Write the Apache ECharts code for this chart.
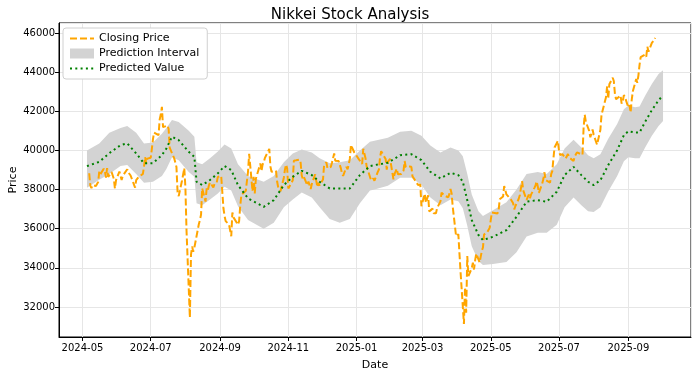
<!DOCTYPE html>
<html>
<head>
<meta charset="utf-8">
<title>Nikkei Stock Analysis</title>
<script src="https://cdn.jsdelivr.net/npm/echarts@6/dist/echarts.min.js"></script>
<style>
html,body{margin:0;padding:0;background:#fff;}
#chart{width:700px;height:376px;}
</style>
</head>
<body>
<div id="chart"></div>
<script>
// closing price per trading day [date, close]
const closing = [
  ['2024-05-07',38835],['2024-05-08',38202],['2024-05-09',38073],['2024-05-10',38229],['2024-05-13',38179],['2024-05-15',38385],
  ['2024-05-16',38920],['2024-05-17',38787],['2024-05-20',39069],['2024-05-21',38946],['2024-05-22',38617],['2024-05-23',39103],
  ['2024-05-24',38646],['2024-05-27',38900],['2024-05-28',38855],['2024-05-29',38556],['2024-05-30',38054],['2024-05-31',38487],
  ['2024-06-03',38923],['2024-06-04',38837],['2024-06-05',38490],['2024-06-06',38703],['2024-06-07',38683],['2024-06-10',39038],
  ['2024-06-11',38876],['2024-06-12',38877],['2024-06-13',38720],['2024-06-14',38814],['2024-06-17',38102],['2024-06-18',38482],
  ['2024-06-19',38570],['2024-06-20',38633],['2024-06-21',38596],['2024-06-24',38804],['2024-06-25',39173],['2024-06-26',39667],
  ['2024-06-27',39341],['2024-06-28',39583],['2024-07-01',39631],['2024-07-02',40074],['2024-07-03',40580],['2024-07-04',40913],
  ['2024-07-05',40912],['2024-07-08',40780],['2024-07-09',41580],['2024-07-10',41831],['2024-07-11',42224],['2024-07-12',41190],
  ['2024-07-16',41275],['2024-07-17',41097],['2024-07-18',40126],['2024-07-19',40063],['2024-07-22',39599],['2024-07-23',39594],
  ['2024-07-24',39154],['2024-07-25',37869],['2024-07-26',37667],['2024-07-29',38468],['2024-07-30',38525],['2024-07-31',39101],
  ['2024-08-01',38126],['2024-08-02',35909],['2024-08-05',31458],['2024-08-06',34675],['2024-08-07',35089],['2024-08-08',34831],
  ['2024-08-09',35025],['2024-08-13',36232],['2024-08-14',36442],['2024-08-15',36726],['2024-08-16',38062],['2024-08-19',37388],
  ['2024-08-20',38063],['2024-08-21',37951],['2024-08-22',38211],['2024-08-23',38364],['2024-08-26',38110],['2024-08-27',38288],
  ['2024-08-28',38371],['2024-08-29',38362],['2024-08-30',38647],['2024-09-02',38700],['2024-09-03',38686],['2024-09-04',37047],
  ['2024-09-05',36657],['2024-09-06',36391],['2024-09-09',36215],['2024-09-10',36159],['2024-09-11',35619],['2024-09-12',36833],
  ['2024-09-13',36581],['2024-09-17',36203],['2024-09-18',36380],['2024-09-19',37155],['2024-09-20',37723],['2024-09-24',37940],
  ['2024-09-25',37870],['2024-09-26',38926],['2024-09-27',39829],['2024-09-30',37919],['2024-10-01',38651],['2024-10-02',37808],
  ['2024-10-03',38552],['2024-10-04',38635],['2024-10-07',39332],['2024-10-08',38937],['2024-10-09',39277],['2024-10-10',39380],
  ['2024-10-11',39605],['2024-10-15',40077],['2024-10-16',39180],['2024-10-17',38911],['2024-10-18',38981],['2024-10-21',38954],
  ['2024-10-22',38411],['2024-10-23',38104],['2024-10-24',38143],['2024-10-25',37913],['2024-10-28',38605],['2024-10-29',39027],
  ['2024-10-30',39277],['2024-10-31',39081],['2024-11-01',38053],['2024-11-05',38474],['2024-11-06',39480],['2024-11-07',39381],
  ['2024-11-08',39500],['2024-11-11',39533],['2024-11-12',39376],['2024-11-13',38721],['2024-11-14',38535],['2024-11-15',38642],
  ['2024-11-18',38220],['2024-11-19',38414],['2024-11-20',38352],['2024-11-21',38026],['2024-11-22',38283],['2024-11-25',38780],
  ['2024-11-26',38442],['2024-11-27',38134],['2024-11-28',38349],['2024-11-29',38208],['2024-12-02',38513],['2024-12-03',39248],
  ['2024-12-04',39276],['2024-12-05',39395],['2024-12-06',39091],['2024-12-09',39160],['2024-12-10',39367],['2024-12-11',39372],
  ['2024-12-12',39849],['2024-12-13',39470],['2024-12-16',39457],['2024-12-17',39364],['2024-12-18',39082],['2024-12-19',38813],
  ['2024-12-20',38701],['2024-12-23',39161],['2024-12-24',39036],['2024-12-25',39130],['2024-12-26',39568],['2024-12-27',40281],
  ['2024-12-30',39894],['2025-01-06',39307],['2025-01-07',40083],['2025-01-08',39981],['2025-01-09',39605],['2025-01-10',39190],
  ['2025-01-14',38474],['2025-01-15',38445],['2025-01-16',38572],['2025-01-17',38451],['2025-01-20',38902],['2025-01-21',39027],
  ['2025-01-22',39646],['2025-01-23',39959],['2025-01-24',39931],['2025-01-27',39565],['2025-01-28',39016],['2025-01-29',39414],
  ['2025-01-30',39513],['2025-01-31',39572],['2025-02-03',38520],['2025-02-04',38798],['2025-02-05',38831],['2025-02-06',39066],
  ['2025-02-07',38787],['2025-02-10',38801],['2025-02-12',38963],['2025-02-13',39461],['2025-02-14',39149],['2025-02-17',39174],
  ['2025-02-18',39270],['2025-02-19',39164],['2025-02-20',38678],['2025-02-21',38776],['2025-02-25',38237],['2025-02-26',38142],
  ['2025-02-27',38256],['2025-02-28',37155],['2025-03-03',37785],['2025-03-04',37331],['2025-03-05',37418],['2025-03-06',37704],
  ['2025-03-07',36887],['2025-03-10',37028],['2025-03-11',36793],['2025-03-12',36819],['2025-03-13',36790],['2025-03-14',37053],
  ['2025-03-17',37396],['2025-03-18',37845],['2025-03-19',37751],['2025-03-21',37677],['2025-03-24',37608],['2025-03-25',37780],
  ['2025-03-26',38027],['2025-03-27',37799],['2025-03-28',37120],['2025-03-31',35617],['2025-04-01',35624],['2025-04-02',35725],
  ['2025-04-03',34736],['2025-04-04',33781],['2025-04-07',31136],['2025-04-08',33012],['2025-04-09',31714],['2025-04-10',34609],
  ['2025-04-11',33586],['2025-04-14',33982],['2025-04-15',34267],['2025-04-16',33920],['2025-04-17',34377],['2025-04-18',34730],
  ['2025-04-21',34280],['2025-04-22',34220],['2025-04-23',34868],['2025-04-24',35039],['2025-04-25',35705],['2025-04-28',35840],
  ['2025-04-30',36045],['2025-05-01',36452],['2025-05-02',36830],['2025-05-07',36780],['2025-05-08',36928],['2025-05-09',37503],
  ['2025-05-12',37644],['2025-05-13',38183],['2025-05-14',38128],['2025-05-15',37755],['2025-05-16',37753],['2025-05-19',37498],
  ['2025-05-20',37529],['2025-05-21',37299],['2025-05-22',36986],['2025-05-23',37160],['2025-05-26',37531],['2025-05-27',37724],
  ['2025-05-28',37722],['2025-05-29',38433],['2025-05-30',37965],['2025-06-02',37470],['2025-06-03',37446],['2025-06-04',37747],
  ['2025-06-05',37554],['2025-06-06',37741],['2025-06-09',38088],['2025-06-10',38211],['2025-06-11',38421],['2025-06-12',38173],
  ['2025-06-13',37834],['2025-06-16',38311],['2025-06-17',38536],['2025-06-18',38885],['2025-06-19',38488],['2025-06-20',38403],
  ['2025-06-23',38354],['2025-06-24',38791],['2025-06-25',38942],['2025-06-26',39584],['2025-06-27',40150],['2025-06-30',40487],
  ['2025-07-01',39986],['2025-07-02',39762],['2025-07-03',39785],['2025-07-04',39810],['2025-07-07',39587],['2025-07-08',39688],
  ['2025-07-09',39821],['2025-07-10',39646],['2025-07-11',39570],['2025-07-14',39459],['2025-07-15',39678],['2025-07-16',39663],
  ['2025-07-17',39901],['2025-07-18',39819],['2025-07-22',39774],['2025-07-23',41171],['2025-07-24',41826],['2025-07-25',41456],
  ['2025-07-28',40998],['2025-07-29',40674],['2025-07-30',40654],['2025-07-31',41069],['2025-08-01',40799],['2025-08-04',40290],
  ['2025-08-05',40549],['2025-08-06',40794],['2025-08-07',41059],['2025-08-08',41820],['2025-08-12',42718],['2025-08-13',43274],
  ['2025-08-14',42649],['2025-08-15',43378],['2025-08-18',43714],['2025-08-19',43546],['2025-08-20',42888],['2025-08-21',42610],
  ['2025-08-22',42633],['2025-08-25',42807],['2025-08-26',42394],['2025-08-27',42520],['2025-08-28',42829],['2025-08-29',42718],
  ['2025-09-01',42188],['2025-09-02',42310],['2025-09-03',41938],['2025-09-04',42580],['2025-09-05',43018],['2025-09-08',43643],
  ['2025-09-09',43459],['2025-09-10',43837],['2025-09-11',44372],['2025-09-12',44768],['2025-09-16',44902],['2025-09-17',44790],
  ['2025-09-18',45303],['2025-09-19',45045],['2025-09-22',45493],['2025-09-24',45630],['2025-09-25',45754]
];

// predicted value and its interval, read at these dates
const predDates = [
  '2024-05-05','2024-05-16','2024-05-25','2024-06-04','2024-06-10','2024-06-18','2024-06-25','2024-07-03','2024-07-11','2024-07-15',
  '2024-07-20','2024-07-26','2024-08-04','2024-08-09','2024-08-11','2024-08-16','2024-08-23','2024-08-30','2024-09-05','2024-09-11',
  '2024-09-17','2024-09-26','2024-10-10','2024-10-19','2024-10-28','2024-11-05','2024-11-13','2024-11-22','2024-11-29','2024-12-08',
  '2024-12-17','2024-12-26','2025-01-04','2025-01-13','2025-01-17','2025-01-29','2025-02-09','2025-02-19','2025-02-28','2025-03-08',
  '2025-03-17','2025-03-26','2025-04-02','2025-04-06','2025-04-10','2025-04-14','2025-04-20','2025-04-24','2025-05-03','2025-05-15',
  '2025-05-24','2025-06-02','2025-06-12','2025-06-20','2025-06-29','2025-07-06','2025-07-14','2025-07-21','2025-07-27','2025-08-01',
  '2025-08-07','2025-08-14','2025-08-22','2025-08-28','2025-09-01','2025-09-07','2025-09-11','2025-09-16','2025-09-22','2025-09-28',
  '2025-10-02'
];
const predValues = [
  39200,39420,39860,40270,40360,39850,39340,39350,39760,40100,
  40700,40530,39930,39670,38400,38230,38490,38830,39200,39000,
  38230,37550,37120,37460,38230,38650,38960,38740,38400,38060,
  38060,38060,38740,39200,39250,39370,39760,39810,39500,38910,
  38570,38860,38740,38400,37460,36440,35680,35420,35590,35930,
  36610,37380,37460,37380,37890,38740,39160,38740,38400,38230,
  38480,39250,40010,40780,40980,40920,40920,41460,42060,42560,
  42820
];
const bandLower = [
  38100,38500,38800,39200,39250,38800,38350,38400,38700,39050,
  39650,39500,38900,38650,37300,37200,37500,37800,38150,37950,
  37150,36450,36000,36300,37100,37500,37850,37600,37100,36500,
  36300,36500,37300,37950,38000,38200,38600,38600,38250,37600,
  37200,37500,37400,37050,36150,35100,34350,34150,34200,34300,
  34800,35600,35800,35800,36200,37100,37600,37200,36900,36850,
  37100,37900,38700,39450,39650,39600,39600,40150,40750,41250,
  41500
];
const bandUpper = [
  40000,40350,40900,41150,41250,40900,40350,40400,40850,41150,
  41550,41450,41000,40700,39400,39300,39600,39950,40300,40100,
  39300,38700,38400,38700,39400,39850,40050,39900,39600,39350,
  39400,39500,40000,40450,40500,40650,40950,41000,40750,40250,
  39900,40150,40000,39700,38800,37750,36900,36650,36950,37350,
  38000,38800,38900,38800,39300,40100,40550,40150,39750,39600,
  39800,40600,41350,42100,42300,42200,42250,42800,43400,43900,
  44100
];

var chart = echarts.init(document.getElementById('chart'));

var lowerData = predDates.map(function (d, i) { return [d, bandLower[i]]; });
var spanData = predDates.map(function (d, i) { return [d, bandUpper[i] - bandLower[i]]; });
var predData = predDates.map(function (d, i) { return [d, predValues[i]]; });

function ym(v) {
  var d = new Date(v);
  var m = d.getMonth() + 1;
  return d.getFullYear() + '-' + (m < 10 ? '0' + m : m);
}

var font = 'DejaVu Sans';

var option = {
  animation: false,
  backgroundColor: '#fff',
  textStyle: { fontFamily: font },
  title: {
    text: 'Nikkei Stock Analysis',
    left: 'center',
    top: 3,
    textStyle: { fontFamily: font, fontSize: 15, fontWeight: 'normal', color: '#000' }
  },
  legend: {
    orient: 'vertical',
    left: 63,
    top: 28,
    padding: [5, 8, 5, 6],
    itemGap: 4,
    itemWidth: 24,
    itemHeight: 10,
    backgroundColor: '#fff',
    borderColor: '#d0d0d0',
    borderWidth: 1,
    borderRadius: 3,
    textStyle: { fontFamily: font, fontSize: 11, color: '#000' },
    data: [
      // hide the marker circle, keep the dashed line
      { name: 'Closing Price', itemStyle: { opacity: 0 } },
      { name: 'Prediction Interval', icon: 'rect', itemStyle: { color: '#d3d3d3' } },
      { name: 'Predicted Value', itemStyle: { opacity: 0 } }
    ]
  },
  grid: {
    left: 59, right: 9, top: 23, bottom: 39,
    outerBoundsMode: 'none',
    show: true, borderColor: '#000', borderWidth: 1
  },
  xAxis: {
    type: 'time',
    min: '2024-04-10',
    max: '2025-10-27',
    splitNumber: 8,
    name: 'Date',
    nameLocation: 'middle',
    nameGap: 23,
    nameTextStyle: { fontFamily: font, fontSize: 11, color: '#000' },
    axisLine: { lineStyle: { color: '#000' } },
    axisTick: { show: true, length: 4, lineStyle: { color: '#000' } },
    minorTick: { show: false },
    axisLabel: { color: '#000', fontSize: 10, fontFamily: font, margin: 6, formatter: ym, hideOverlap: false },
    splitLine: { show: true, lineStyle: { color: '#e6e6e6', width: 1 } }
  },
  yAxis: {
    type: 'value',
    min: 30470,
    max: 46510,
    minInterval: 2000,
    maxInterval: 2000,
    name: 'Price',
    nameLocation: 'middle',
    nameGap: 40,
    nameMoveOverlap: false,
    nameTextStyle: { fontFamily: font, fontSize: 11, color: '#000' },
    axisLine: { show: true, lineStyle: { color: '#000' } },
    axisTick: { show: true, length: 4, lineStyle: { color: '#000' } },
    axisLabel: {
      color: '#000', fontSize: 10, fontFamily: font, margin: 4,
      showMinLabel: false, showMaxLabel: false,
      formatter: function (v) { return String(v); }
    },
    splitLine: { show: true, lineStyle: { color: '#e6e6e6', width: 1 } }
  },
  series: [
    {
      name: 'band-lower',
      type: 'line',
      stack: 'band',
      data: lowerData,
      symbol: 'none',
      lineStyle: { opacity: 0 },
      silent: true,
      z: 1
    },
    {
      name: 'Prediction Interval',
      type: 'line',
      stack: 'band',
      data: spanData,
      symbol: 'none',
      lineStyle: { opacity: 0 },
      itemStyle: { color: '#d3d3d3' },
      areaStyle: { color: '#d3d3d3', opacity: 1 },
      silent: true,
      z: 1
    },
    {
      name: 'Closing Price',
      type: 'line',
      data: closing,
      symbol: 'none',
      itemStyle: { color: '#FFA500' },
      lineStyle: { color: '#FFA500', width: 2, type: [7, 3] },
      z: 3
    },
    {
      name: 'Predicted Value',
      type: 'line',
      data: predData,
      symbol: 'none',
      itemStyle: { color: '#008000' },
      lineStyle: { color: '#008000', width: 2, type: [2, 3.3] },
      z: 4
    }
  ]
};

chart.setOption(option);
</script>
</body>
</html>
